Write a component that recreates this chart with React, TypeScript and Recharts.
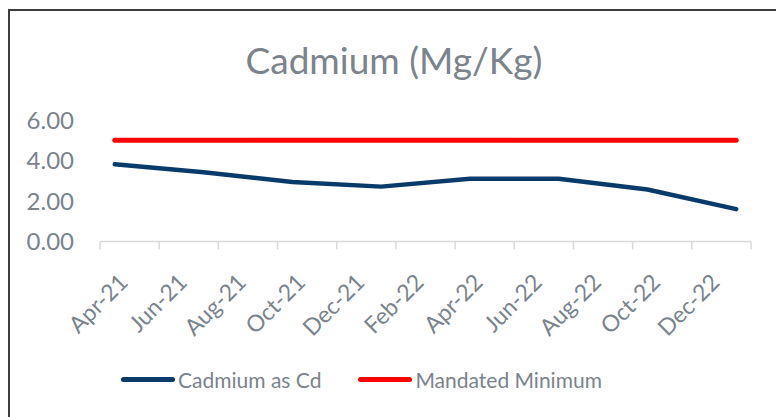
import React from 'react'
import { LineChart, Line, XAxis, YAxis } from 'recharts'

// month slots on the date axis (one per month, Apr-21 .. Jan-23)
const months = [
  'Apr-21', 'May-21', 'Jun-21', 'Jul-21', 'Aug-21', 'Sep-21', 'Oct-21', 'Nov-21',
  'Dec-21', 'Jan-22', 'Feb-22', 'Mar-22', 'Apr-22', 'May-22', 'Jun-22', 'Jul-22',
  'Aug-22', 'Sep-22', 'Oct-22', 'Nov-22', 'Dec-22', 'Jan-23',
]

// sampled months + values
const sampleMonths = ['Apr-21', 'Jul-21', 'Oct-21', 'Jan-22', 'Apr-22', 'Jul-22', 'Oct-22', 'Jan-23']
const cadmium = [3.81, 3.42, 2.94, 2.71, 3.1, 3.1, 2.57, 1.6]
const mandatedMinimum = [5, 5, 5, 5, 5, 5, 5, 5]

const yTicks = [0, 2, 4, 6]
const seriesNames = ['Cadmium as Cd', 'Mandated Minimum']
const seriesColors = ['#083a6a', '#ff0000']

const W = 776
const H = 409
const MARGIN = { top: 112, right: 33, bottom: 135.5, left: 32 }
const Y_AXIS_W = 60
const PLOT_W = W - MARGIN.left - MARGIN.right - Y_AXIS_W
const MONTH_PX = PLOT_W / months.length

const FONT = 'Lato, "Liberation Sans", sans-serif'
const TEXT = '#7b838c'

const data = sampleMonths.map((mo, i) => ({
  m: months.indexOf(mo) + 0.5,
  cd: cadmium[i],
  min: mandatedMinimum[i],
}))

const xTicks: number[] = []
for (let i = 0; i <= months.length; i += 2) xTicks.push(i)

const XTick = (props: any) => {
  const { x, y, payload } = props
  const label = months[payload.value]
  const tx = x + MONTH_PX / 2 + 8
  const ty = y + 36
  return (
    <g>
      <line x1={x} y1={y} x2={x} y2={y + 8} stroke="#d9d9d9" strokeWidth={1.5} />
      {label && (
        <text
          x={tx}
          y={ty}
          transform={`rotate(-45 ${tx} ${ty})`}
          textAnchor="end"
          dominantBaseline="central"
          fill={TEXT}
          fontSize={23}
          fontFamily={FONT}
        >
          {label}
        </text>
      )}
    </g>
  )
}

export default function App() {
  return (
    <div style={{ position: 'relative', width: W, height: H, overflow: 'hidden', background: '#fff' }}>
      {/* chart frame, cropped on right/bottom like the source */}
      <div
        style={{
          position: 'absolute',
          left: 0,
          top: 1,
          width: 820,
          height: 460,
          border: '2px solid #3d3d3d',
          boxSizing: 'border-box',
        }}
      />
      <div
        style={{
          position: 'absolute',
          left: 0,
          top: 33,
          width: 772,
          textAlign: 'center',
          fontFamily: FONT,
          fontSize: 37,
          lineHeight: '37px',
          color: TEXT,
        }}
      >
        Cadmium (Mg/Kg)
      </div>
      <div style={{ position: 'absolute', left: 0, top: 0 }}>
        <LineChart width={W} height={H} data={data} margin={MARGIN}>
          <XAxis
            dataKey="m"
            type="number"
            domain={[0, months.length]}
            ticks={xTicks}
            interval={0}
            height={40}
            tickLine={false}
            tickSize={0}
            tickMargin={0}
            axisLine={{ stroke: '#d9d9d9', strokeWidth: 1.5 }}
            tick={<XTick />}
          />
          <YAxis
            domain={[0, 6]}
            ticks={yTicks}
            width={Y_AXIS_W}
            axisLine={false}
            tickLine={false}
            tickSize={0}
            tickMargin={26}
            tickFormatter={(v: number) => v.toFixed(2)}
            tick={{ fill: TEXT, fontSize: 24, fontFamily: FONT }}
          />
          <Line
            type="linear"
            dataKey="min"
            name={seriesNames[1]}
            stroke={seriesColors[1]}
            strokeWidth={5}
            strokeLinecap="round"
            dot={false}
            isAnimationActive={false}
          />
          <Line
            type="linear"
            dataKey="cd"
            name={seriesNames[0]}
            stroke={seriesColors[0]}
            strokeWidth={4.5}
            strokeLinecap="round"
            strokeLinejoin="round"
            dot={false}
            isAnimationActive={false}
          />
        </LineChart>
      </div>
      {/* legend */}
      <div
        style={{
          position: 'absolute',
          left: 113,
          top: 359,
          height: 24,
          display: 'flex',
          alignItems: 'center',
          fontFamily: FONT,
          fontSize: 21,
          color: TEXT,
        }}
      >
        {seriesNames.map((n, i) => (
          <div key={n} style={{ display: 'flex', alignItems: 'center', marginRight: 37 }}>
            <span
              style={{
                display: 'inline-block',
                width: 54,
                height: 5,
                borderRadius: 3,
                background: seriesColors[i],
                marginRight: 3,
              }}
            />
            <span>{n}</span>
          </div>
        ))}
      </div>
    </div>
  )
}
